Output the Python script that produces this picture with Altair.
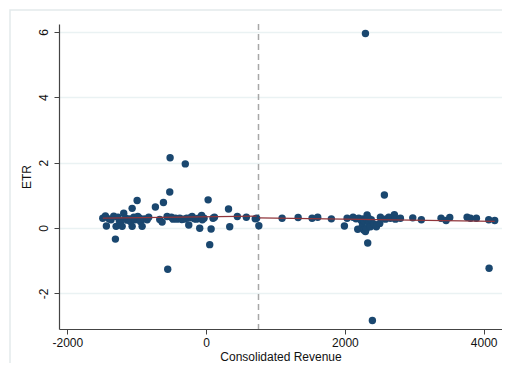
import altair as alt
import pandas as pd

# Scatter data: Consolidated Revenue (x) vs ETR (y)
revenue = [
    -1489, -1451, -1437, -1400, -1370, -1331, -1307, -1297, -1270, -1250,
    -1235, -1210, -1187, -1160, -1138, -1110, -1090, -1066, -1066, -1042,
    -1020, -994, -985, -957, -946, -922, -890, -850, -827, -731,
    -668, -634, -615, -562, -553, -524, -519, -500, -476, -440,
    -418, -380, -350, -322, -300, -280, -250, -220, -202, -170,
    -140, -110, -92, -65, -55, -30, 29, 52, 72, 100,
    120, 323, 340, 450, 580, 708, 727,
    760, 1095, 1326, 1527, 1608, 1805, 1993, 2032, 2118, 2160,
    2185, 2200, 2228, 2248, 2250, 2260, 2271, 2280, 2296, 2296,
    2310, 2310, 2320, 2329, 2340, 2343, 2368, 2380, 2396, 2415,
    2454, 2464, 2502, 2512, 2569, 2584, 2632, 2656, 2713, 2728,
    2800, 2978, 3102, 3386, 3458, 3511, 3761, 3809, 3895, 4073,
    4078, 4159,
]
etr = [
    0.30, 0.37, 0.06, 0.28, 0.25, 0.36, -0.34, 0.05, 0.33, 0.22,
    0.16, 0.05, 0.45, 0.30, 0.24, 0.28, 0.20, 0.60, 0.05, 0.33,
    0.25, 0.84, 0.35, 0.30, 0.20, 0.05, 0.28, 0.25, 0.33, 0.64,
    0.26, 0.18, 0.78, 0.35, -1.26, 1.10, 2.15, 0.33, 0.27, 0.30,
    0.27, 0.30, 0.26, 0.27, 1.96, 0.30, 0.09, 0.32, 0.35, 0.28,
    0.27, 0.30, -0.01, 0.38, 0.25, 0.30, 0.86, -0.51, -0.03, 0.30,
    0.33, 0.58, 0.04, 0.35, 0.33, 0.28, 0.30,
    0.07, 0.30, 0.32, 0.30, 0.33, 0.28, 0.06, 0.30, 0.33, 0.28,
    -0.04, 0.30, 0.25, 0.19, 0.05, 0.28, -0.06, 0.22, -0.11, 5.95,
    0.28, -0.02, 0.40, -0.46, 0.30, 0.14, 0.04, 0.25, -2.83, 0.12,
    0.04, 0.09, 0.14, 0.33, 1.01, 0.27, 0.33, 0.30, 0.41, 0.27,
    0.30, 0.31, 0.25, 0.30, 0.23, 0.32, 0.33, 0.30, 0.30, 0.25,
    -1.23, 0.23,
]

# Linear fit segments on each side of the cutoff
fit_x = [-1489, 727, 760, 4159]
fit_y = [0.30, 0.365, 0.31, 0.205]
fit_side = ["left", "left", "right", "right"]

cutoff = [755]

x_ticks = [-2000, 0, 2000, 4000]
y_ticks = [-2, 0, 2, 4, 6]

pts = pd.DataFrame({"rev": revenue, "etr": etr})
fit = pd.DataFrame({"rev": fit_x, "etr": fit_y, "side": fit_side})
cut = pd.DataFrame({"rev": cutoff})

xscale = alt.Scale(domain=[-2120, 4264], nice=False, zero=False)
yscale = alt.Scale(domain=[-3.09, 6.24], nice=False, zero=False)

xaxis = alt.Axis(values=x_ticks, title="Consolidated Revenue", grid=False,
                 tickSize=5, labelPadding=3, titlePadding=3,
                 labelExpr="datum.value + ''")
yaxis = alt.Axis(values=y_ticks, title="ETR", grid=True, gridColor="#eaf2f3",
                 gridWidth=1.5, tickSize=5, labelAngle=270, labelAlign="center",
                 labelBaseline="bottom", labelPadding=4, titlePadding=4,
                 labelExpr="datum.value + ''")

frame = alt.Chart(pd.DataFrame({"a": [0]})).mark_rect(
    fillOpacity=0, stroke="#e3eaec", strokeWidth=1.5
).encode(x=alt.value(-49), x2=alt.value(600), y=alt.value(-14), y2=alt.value(500))

points = alt.Chart(pts).mark_circle(size=55, color="#1a476f", opacity=1).encode(
    x=alt.X("rev:Q", scale=xscale, axis=xaxis),
    y=alt.Y("etr:Q", scale=yscale, axis=yaxis),
)

lines = alt.Chart(fit).mark_line(color="#90353b", strokeWidth=1.3).encode(
    x="rev:Q", y="etr:Q", detail="side:N"
)

rule = alt.Chart(cut).mark_rule(color="#a8a8a8", strokeDash=[6, 4], strokeWidth=1.5).encode(
    x="rev:Q"
)

chart = alt.layer(frame, rule, points, lines).properties(
    width=443, height=305,
    padding={"left": 51, "top": 16, "right": 0, "bottom": 34},
    autosize=alt.AutoSizeParams(type="none"),
    background="white",
).configure_view(stroke=None).configure_axis(
    domainColor="#444", tickColor="#444", labelColor="#111", titleColor="#111",
    labelFont="Liberation Sans", titleFont="Liberation Sans",
    labelFontSize=12, titleFontSize=12, titleFontWeight="normal", domainWidth=1.2,
)

chart.save("out.html", embed_options={"renderer": "svg", "actions": False})
